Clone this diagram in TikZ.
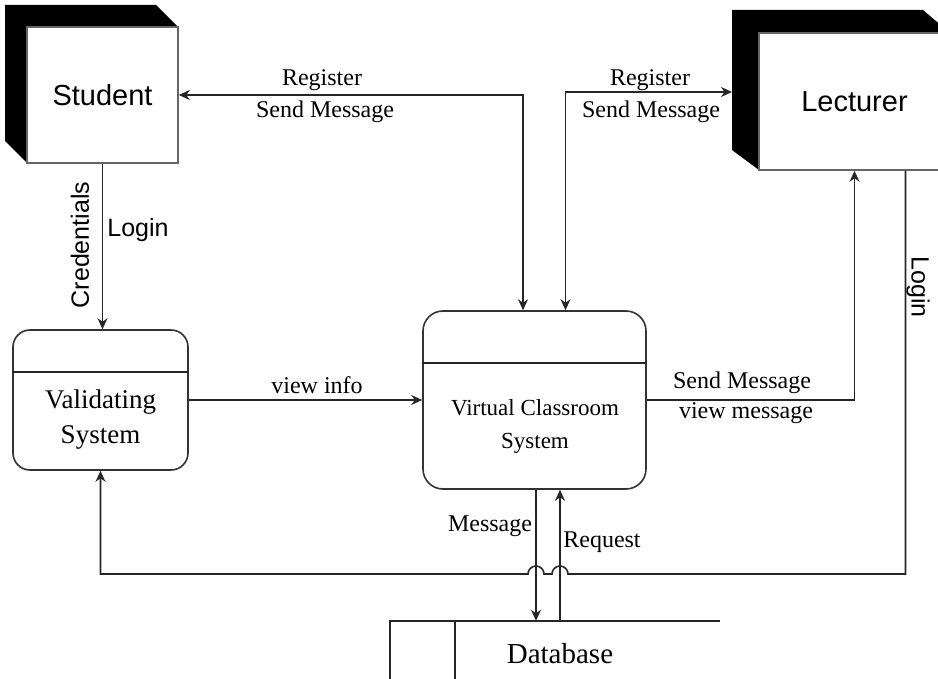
\documentclass[tikz,border=0pt]{standalone}
\usepackage{fontspec}
\setmainfont{Liberation Serif}
\setsansfont{Liberation Sans}
\usetikzlibrary{arrows.meta}

\tikzset{
  line/.style={draw=black!85, line width=1.6pt},
  tip/.style={},
  arr/.style={line, -{Stealth[length=11pt,width=10pt]}},
  dualarr/.style={line, {Stealth[length=11pt,width=10pt]}-{Stealth[length=11pt,width=10pt]}},
  extbox/.style={draw=black!60, line width=1.6pt, fill=white, inner sep=0pt,
    font=\sffamily\fontsize{29}{34}\selectfont},
  procbox/.style={draw=black!80, line width=1.6pt, rounded corners=17pt, inner sep=0pt},
  procname/.style={align=center, inner sep=0pt},
  lbl/.style={font=\fontsize{24}{28}\selectfont, inner sep=0pt},
  slbl/.style={font=\sffamily\fontsize{25}{30}\selectfont, inner sep=0pt},
}

\begin{document}
\begin{tikzpicture}[x=1pt, y=-1pt]
\useasboundingbox (0,0) rectangle (938,679);
\clip (0,0) rectangle (938,679);

% External entities with a black depth band on the top-left
\fill[black] (5,5) -- (156,5) -- (178,27) -- (27,27) -- (27,163) -- (5,141) -- cycle;
\node[extbox, minimum width=151pt, minimum height=136pt] (student) at (102.5,95) {Student};

\fill[black] (732,10) -- (923,10) -- (950,33) -- (759,33) -- (759,170) -- (732,150) -- cycle;
\node[extbox, minimum width=191pt, minimum height=137pt] (lecturer) at (854.5,101.5) {Lecturer};

% Processes
\node[procbox, minimum width=175pt, minimum height=140pt] (valid) at (100.5,400) {};
\draw[line] (valid.west |- 0,372) -- (valid.east |- 0,372);
\node[procname, font=\fontsize{27}{35}\selectfont] (validtxt) at (100.5,420) {Validating\\System};

\node[procbox, rounded corners=20pt, minimum width=223pt, minimum height=178pt] (virtual) at (534.5,400) {};
\draw[line] (virtual.west |- 0,363) -- (virtual.east |- 0,363);
\node[procname, font=\fontsize{23}{33}\selectfont] (virtualtxt) at (535,427) {Virtual Classroom\\System};

% Data store
\node[minimum width=330pt, minimum height=100pt, inner sep=0pt] (dbstore) at (555,671) {};
\draw[line, line width=2.2pt] (390,700) -- (dbstore.north -| 390,0) -- (dbstore.north -| 720,0);
\draw[line] (dbstore.north -| 455,0) -- (455,700);
\node[font=\fontsize{29}{32}\selectfont, inner sep=0pt] (dbtxt) at (560,654) {Database};

% Flows between student, lecturer and the classroom system
\draw[dualarr] (student.east) -| ([xshift=-11.5pt]virtual.north);
\coordinate (lecin) at (732,92);
\draw[dualarr] ([xshift=31pt]virtual.north) |- (lecin);
\draw[arr] (student.south) -- (student.south |- valid.north);
\draw[arr] (valid.east) -- (virtual.west);
\draw[arr] (virtual.east) -| (lecturer.south);

% Lecturer login loop, hopping over the database flows
\coordinate (lecout) at ([xshift=51pt]lecturer.south);
\draw[arr] (lecout) -- (lecout |- 0,574) -- (568,574)
  arc[start angle=0, end angle=180, radius=8pt] -- (544,574)
  arc[start angle=0, end angle=180, radius=8pt] -- (valid.south |- 0,574) -- (valid.south);

% Classroom system <-> database
\draw[arr] ([xshift=1.5pt]virtual.south) -- ([xshift=1.5pt]virtual.south |- dbstore.north);
\draw[arr] ([xshift=25.5pt]virtual.south |- dbstore.north) -- ([xshift=25.5pt]virtual.south);

% Flow labels
\node[lbl] (l1) at (322,80) {Register};
\node[lbl] (l2) at (325,112) {Send Message};
\node[lbl] (l3) at (650,80) {Register};
\node[lbl] (l4) at (651,112) {Send Message};
\node[slbl] (l5) at (138,230) {Login};
\node[slbl, rotate=90] (l6) at (80,245) {Credentials};
\node[lbl] (l7) at (317,385) {view info};
\node[lbl] (l8) at (742,383) {Send Message};
\node[lbl] (l9) at (746,413) {view message};
\node[slbl, rotate=-90] (l10) at (918,287) {Login};
\node[lbl] (l11) at (490,526) {Message};
\node[lbl] (l12) at (602,542) {Request};
\end{tikzpicture}
\end{document}
